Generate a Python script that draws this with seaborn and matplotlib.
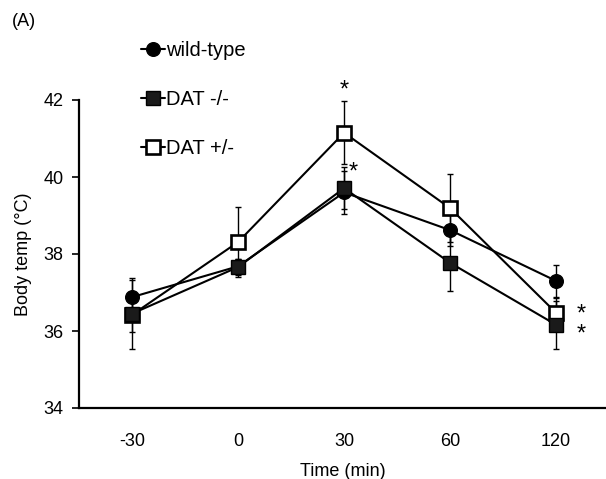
import matplotlib
matplotlib.use("Agg")
import matplotlib.pyplot as plt
import seaborn as sns
import numpy as np
import pandas as pd
from matplotlib.lines import Line2D

sns.set_theme(style="white")
plt.rcParams['font.family'] = ['Liberation Sans', 'DejaVu Sans']
plt.rcParams['text.color'] = 'black'
plt.rcParams['axes.labelcolor'] = 'black'

time_labels = ["-30", "0", "30", "60", "120"]
wild_type = [36.88, 37.68, 39.60, 38.62, 37.30]
wild_type_sem = [0.45, 0.20, 0.56, 0.40, 0.42]
dat_ko = [36.45, 37.66, 39.71, 37.77, 36.16]
dat_ko_sem = [0.92, 0.20, 0.55, 0.73, 0.63]
dat_het = [36.42, 38.31, 41.15, 39.19, 36.47]
dat_het_sem = [0.45, 0.90, 0.82, 0.88, 0.40]

series = ["wild-type", "DAT -/-", "DAT +/-"]

pos = np.arange(len(time_labels))
df = pd.concat([
    pd.DataFrame({"pos": pos, "time": time_labels, "temp": v, "sem": s, "genotype": g})
    for g, v, s in [("wild-type", wild_type, wild_type_sem),
                    ("DAT +/-", dat_het, dat_het_sem),
                    ("DAT -/-", dat_ko, dat_ko_sem)]
], ignore_index=True)

fig = plt.figure(figsize=(6.06, 4.79), dpi=100)
ax = fig.add_axes([79 / 606, 71 / 479, (606 - 79) / 606, 308 / 479])

styles = {
    "wild-type": dict(marker="o", ms=9.8, mfc="black", mec="black", mew=1.0),
    "DAT -/-": dict(marker="s", ms=10.5, mfc="#1a1a1a", mec="black", mew=1.0),
    "DAT +/-": dict(marker="s", ms=10.5, mfc="white", mec="black", mew=1.9),
}

for g in ["wild-type", "DAT +/-", "DAT -/-"]:
    sub = df[df["genotype"] == g]
    ax.errorbar(sub["pos"], sub["temp"], yerr=sub["sem"], fmt="none",
                ecolor="black", elinewidth=1.0, capsize=2.2, capthick=1.0, zorder=2)
for g in ["wild-type", "DAT +/-", "DAT -/-"]:
    sub = df[df["genotype"] == g]
    sns.lineplot(data=sub, x="pos", y="temp", color="black", linewidth=1.5,
                 ax=ax, legend=False, zorder=3, **styles[g])

ax.set_xlim(-0.5, 4.47)
ax.set_ylim(34, 42)
ax.set_xticks(pos)
ax.set_xticklabels(time_labels)
ax.set_yticks([34, 36, 38, 40, 42])
ax.set_yticklabels(["34", "36", "38", "40", "42"])
ax.tick_params(axis="x", length=0, pad=18, labelsize=13, colors="black")
ax.tick_params(axis="y", length=5, width=1.2, direction="out", pad=6, labelsize=13,
               colors="black", left=True)
for side in ["top", "right"]:
    ax.spines[side].set_visible(False)
for side in ["left", "bottom"]:
    ax.spines[side].set_color("black")
    ax.spines[side].set_linewidth(1.6)
ax.set_xlabel("Time (min)", fontsize=13, labelpad=9, color="black")
ax.set_ylabel("Body temp (°C)", fontsize=13, labelpad=8, color="black")
ax.set_facecolor("white")

# significance markers
ax.text(2, 42.25, "*", ha="center", va="center", fontsize=17, color="black", clip_on=False)
ax.text(2.09, 40.12, "*", ha="center", va="center", fontsize=17, color="black", clip_on=False)
ax.text(4.235, 36.17, "*\n*", ha="center", va="center", fontsize=17, color="black",
        linespacing=0.85, clip_on=False)

handles = [Line2D([], [], color="black", linewidth=1.5, **styles[g]) for g in series]
fig.legend(handles, series, loc="upper left", bbox_to_anchor=(141 / 606, 1 - 41 / 479),
           frameon=False, fontsize=14.5, handlelength=1.2, handletextpad=0.05,
           labelspacing=1.5, borderpad=0, borderaxespad=0, labelcolor="black")

fig.text(12 / 606, 1 - 22 / 479, "(A)", fontsize=13, va="center", ha="left", color="black")

fig.savefig("out.png", dpi=100, facecolor="white")
